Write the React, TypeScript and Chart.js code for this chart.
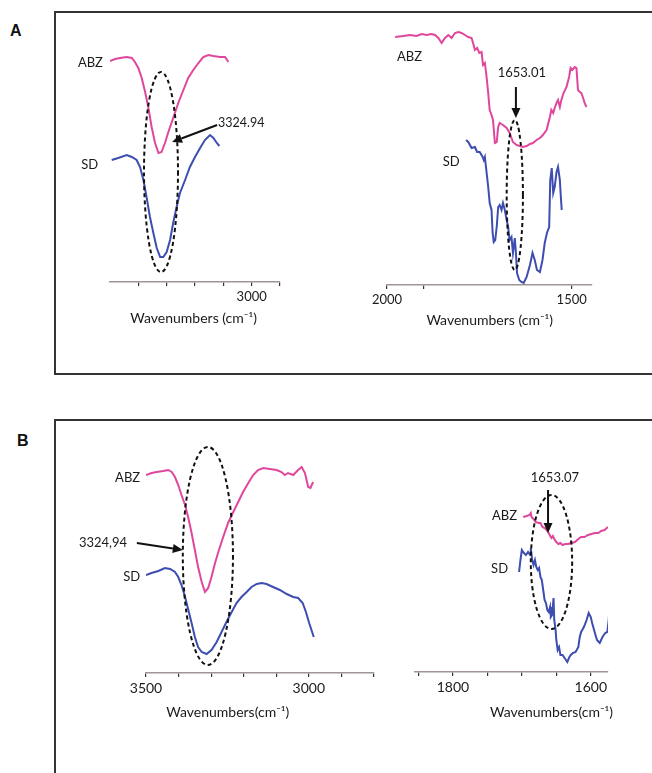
import React, { useEffect, useRef } from "react";
import { Chart, registerables } from "chart.js";

Chart.register(...registerables);

const FONT = "Lato, 'Open Sans', sans-serif";
const PINK = "#e0479c";
const BLUE = "#3d4db0";

// ---------- Panel A, left : 3500-2900 cm-1 ----------
const aLeftAbzX = [3500, 3482, 3465, 3441, 3423, 3412, 3400, 3388, 3376, 3365, 3353, 3341, 3329, 3318, 3306, 3294, 3277, 3259, 3241, 3224, 3206, 3188, 3171, 3153, 3135, 3112, 3094, 3082];
const aLeftAbzY = [221, 223, 224, 225, 224, 220, 214, 204, 190, 175, 155, 139, 129, 130, 139, 150, 164, 179, 192, 204, 212, 219, 225, 227, 226, 225, 225, 220];
const aLeftSdX = [3494, 3471, 3441, 3423, 3406, 3394, 3382, 3371, 3359, 3347, 3335, 3323, 3312, 3300, 3288, 3277, 3265, 3253, 3235, 3218, 3200, 3182, 3165, 3147, 3135, 3123, 3114];
const aLeftSdY = [122, 124, 127, 125, 122, 115, 102, 85, 65, 49, 34, 25, 25, 30, 42, 59, 75, 89, 102, 115, 125, 134, 142, 147, 144, 139, 136];
const aLeftTicks = [3400, 3300, 3200, 3100, 3000, 2900];
const aLeftTickLabels = [3000];

// ---------- Panel A, right : 2000-1450 cm-1 ----------
const aRightAbzX = [1978, 1956, 1938, 1920, 1906, 1893, 1879, 1870, 1861, 1852, 1843, 1834, 1825, 1816, 1807, 1798, 1789, 1780, 1771, 1767, 1762, 1756, 1750, 1744, 1740, 1735, 1731, 1726, 1722, 1717, 1713, 1708, 1703, 1699, 1695, 1686, 1676, 1668, 1659, 1649, 1640, 1632, 1622, 1613, 1605, 1595, 1586, 1578, 1568, 1559, 1555, 1550, 1546, 1541, 1537, 1532, 1528, 1522, 1514, 1507, 1503, 1498, 1492, 1487, 1483, 1478, 1474, 1469, 1465, 1460];
const aRightAbzY = [248, 249, 250, 249, 251, 250, 251, 250, 247, 242, 247, 250, 247, 252, 253, 252, 250, 248, 247, 242, 235, 237, 232, 233, 220, 222, 210, 192, 175, 170, 165, 142, 143, 158, 162, 160, 157, 152, 143, 140, 139, 138, 139, 141, 142, 145, 147, 150, 155, 168, 175, 172, 177, 182, 185, 178, 185, 192, 198, 208, 217, 215, 218, 217, 195, 193, 192, 187, 182, 178];
const aRightSdX = [1786, 1780, 1771, 1762, 1756, 1749, 1741, 1738, 1735, 1732, 1729, 1726, 1722, 1717, 1714, 1711, 1707, 1703, 1699, 1695, 1690, 1686, 1681, 1676, 1672, 1668, 1663, 1659, 1654, 1651, 1648, 1642, 1636, 1630, 1622, 1613, 1606, 1600, 1594, 1586, 1579, 1573, 1567, 1561, 1558, 1554, 1550, 1546, 1541, 1537, 1532, 1530, 1527];
const aRightSdY = [145, 143, 137, 138, 133, 133, 128, 125, 128, 118, 108, 98, 82, 75, 52, 43, 45, 58, 78, 80, 75, 82, 75, 65, 58, 45, 48, 32, 47, 32, 12, 5, 3, 2, 8, 20, 32, 25, 15, 13, 25, 42, 52, 58, 105, 117, 92, 98, 113, 118, 105, 92, 75];
const aRightTicks = [2000, 1900, 1500];
const aRightTickLabels = [2000, 1500];

// ---------- Panel B, left : 3500-2800 cm-1 ----------
const bLeftAbzX = [3500, 3483, 3467, 3447, 3432, 3421, 3411, 3401, 3391, 3380, 3370, 3360, 3350, 3340, 3329, 3319, 3309, 3299, 3288, 3278, 3263, 3248, 3232, 3217, 3202, 3186, 3171, 3156, 3140, 3120, 3099, 3084, 3074, 3064, 3048, 3033, 3022, 3012, 3002, 2995, 2987];
const bLeftAbzY = [198, 200, 201, 202, 203, 201, 196, 188, 178, 168, 155, 140, 123, 106, 91, 81, 85, 96, 110, 121, 136, 150, 161, 171, 181, 190, 198, 203, 205, 204, 203, 201, 198, 200, 198, 203, 206, 200, 186, 185, 191];
const bLeftSdX = [3500, 3483, 3462, 3442, 3426, 3411, 3401, 3391, 3380, 3370, 3360, 3350, 3340, 3329, 3314, 3299, 3283, 3268, 3253, 3237, 3222, 3207, 3191, 3176, 3160, 3145, 3130, 3110, 3089, 3068, 3048, 3033, 3019, 3009, 2999, 2990, 2985];
const bLeftSdY = [98, 100, 102, 105, 104, 101, 96, 88, 76, 63, 50, 36, 26, 21, 19, 23, 31, 41, 51, 61, 70, 76, 81, 86, 89, 90, 89, 86, 83, 79, 76, 75, 70, 61, 50, 41, 36];
const bLeftTicks = [3500, 3400, 3300, 3200, 3100, 3000, 2900, 2800];
const bLeftTickLabels = [3500, 3000];

// ---------- Panel B, right : 1850-1575 cm-1 ----------
const bRightAbzX = [1698, 1693, 1689, 1687, 1686, 1683, 1680, 1676, 1673, 1670, 1667, 1664, 1661, 1658, 1657, 1655, 1653, 1650, 1647, 1644, 1641, 1637, 1633, 1628, 1623, 1618, 1614, 1609, 1604, 1599, 1594, 1589, 1585, 1580, 1575];
const bRightAbzY = [155, 156, 157, 159, 155, 153, 150, 149, 149, 145, 144, 142, 139, 135, 134, 136, 133, 130, 128, 129, 127, 128, 128, 129, 130, 133, 135, 135, 137, 138, 139, 139, 141, 142, 145];
const bRightSdX = [1704, 1702, 1700, 1697, 1694, 1691, 1688, 1687, 1685, 1683, 1681, 1679, 1677, 1675, 1673, 1671, 1669, 1667, 1665, 1663, 1661, 1659, 1658, 1656, 1654, 1653, 1651, 1650, 1648, 1646, 1644, 1641, 1638, 1634, 1631, 1629, 1626, 1622, 1618, 1616, 1614, 1610, 1606, 1603, 1600, 1598, 1594, 1591, 1587, 1583, 1579, 1576, 1574, 1573];
const bRightSdY = [100, 112, 122, 119, 117, 120, 117, 124, 112, 107, 112, 105, 102, 104, 95, 92, 82, 72, 69, 62, 60, 65, 55, 57, 74, 52, 42, 32, 22, 25, 17, 17, 14, 10, 15, 17, 19, 20, 25, 35, 40, 45, 52, 59, 55, 49, 39, 32, 29, 35, 39, 40, 52, 64];
const bRightTicks = [1850, 1800, 1750, 1700, 1650, 1600];
const bRightTickLabels = [1800, 1600];

type Txt = { text: string; x: number; y: number; align: CanvasTextAlign; size: number };
type PanelCfg = {
  xMin: number;
  xMax: number;
  yMax: number;
  ticks: number[];
  labeled: number[];
  tickSize: number;
  series: { x: number[]; y: number[]; color: string }[];
  texts: Txt[];
  ellipse: { cx: number; cy: number; rx: number; ry: number };
  arrow: { x1: number; y1: number; x2: number; y2: number };
  title: { text: string; x: number; dy: number; size: number };
  canvas: { left: number; top: number; width: number; height: number };
  area: { left: number; right: number; top: number; bottom: number };
};

const panels: PanelCfg[] = [
  {
    xMin: 2900, xMax: 3500, yMax: 262,
    ticks: aLeftTicks, labeled: aLeftTickLabels, tickSize: 13,
    series: [
      { x: aLeftAbzX, y: aLeftAbzY, color: PINK },
      { x: aLeftSdX, y: aLeftSdY, color: BLUE },
    ],
    texts: [
      { text: "ABZ", x: 3525, y: 219, align: "right", size: 13 },
      { text: "SD", x: 3542, y: 117, align: "right", size: 13 },
      { text: "3324.94", x: 3119, y: 159, align: "left", size: 12.5 },
    ],
    ellipse: { cx: 3320, cy: 110, rx: 60, ry: 100 },
    arrow: { x1: 3122, y1: 157, x2: 3281, y2: 140 },
    title: { text: "Wavenumbers (cm\u207B\u00B9)", x: 3205, dy: 36, size: 14 },
    canvas: { left: 60, top: 15, width: 270, height: 320 },
    area: { left: 110, right: 280, top: 20, bottom: 282 },
  },
  {
    xMin: 1445, xMax: 2000, yMax: 265,
    ticks: aRightTicks, labeled: aRightTickLabels, tickSize: 13,
    series: [
      { x: aRightAbzX, y: aRightAbzY, color: PINK },
      { x: aRightSdX, y: aRightSdY, color: BLUE },
    ],
    texts: [
      { text: "ABZ", x: 1973, y: 228, align: "left", size: 13 },
      { text: "SD", x: 1849, y: 123, align: "left", size: 13 },
      { text: "1653.01", x: 1635, y: 212, align: "center", size: 13 },
    ],
    ellipse: { cx: 1654, cy: 90, rx: 22, ry: 75 },
    arrow: { x1: 1651, y1: 198, x2: 1651, y2: 167 },
    title: { text: "Wavenumbers (cm\u207B\u00B9)", x: 1722, dy: 35, size: 14 },
    canvas: { left: 340, top: 15, width: 300, height: 320 },
    area: { left: 387, right: 592, top: 20, bottom: 285 },
  },
  {
    xMin: 2800, xMax: 3500, yMax: 243,
    ticks: bLeftTicks, labeled: bLeftTickLabels, tickSize: 14,
    series: [
      { x: bLeftAbzX, y: bLeftAbzY, color: PINK },
      { x: bLeftSdX, y: bLeftSdY, color: BLUE },
    ],
    texts: [
      { text: "ABZ", x: 3518, y: 195, align: "right", size: 13 },
      { text: "SD", x: 3518, y: 96, align: "right", size: 13 },
      { text: "3324,94", x: 3558, y: 130, align: "right", size: 13 },
    ],
    ellipse: { cx: 3310, cy: 117, rx: 77, ry: 109 },
    arrow: { x1: 3528, y1: 130, x2: 3387, y2: 123 },
    title: { text: "Wavenumbers(cm\u207B\u00B9)", x: 3249, dy: 39, size: 14 },
    canvas: { left: 60, top: 425, width: 330, height: 300 },
    area: { left: 146, right: 374, top: 430, bottom: 673 },
  },
  {
    xMin: 1575, xMax: 1855, yMax: 242,
    ticks: bRightTicks, labeled: bRightTickLabels, tickSize: 14,
    series: [
      { x: bRightAbzX, y: bRightAbzY, color: PINK },
      { x: bRightSdX, y: bRightSdY, color: BLUE },
    ],
    texts: [
      { text: "ABZ", x: 1707, y: 156, align: "right", size: 13 },
      { text: "SD", x: 1720, y: 103, align: "right", size: 13 },
      { text: "1653.07", x: 1652, y: 194, align: "center", size: 13 },
    ],
    ellipse: { cx: 1657, cy: 110, rx: 30, ry: 67 },
    arrow: { x1: 1662, y1: 182, x2: 1662, y2: 139 },
    title: { text: "Wavenumbers(cm\u207B\u00B9)", x: 1657, dy: 40, size: 14 },
    canvas: { left: 395, top: 425, width: 250, height: 300 },
    area: { left: 415, right: 608, top: 430, bottom: 672 },
  },
];

function makeAnnotPlugin(p: PanelCfg) {
  return {
    id: "annot",
    afterDatasetsDraw(chart: any) {
      const ctx: CanvasRenderingContext2D = chart.ctx;
      const xs = chart.scales.x;
      const ys = chart.scales.y;
      const X = (v: number) => xs.getPixelForValue(v);
      const Y = (v: number) => ys.getPixelForValue(v);
      ctx.save();
      // ellipse
      const e = p.ellipse;
      const cx = X(e.cx);
      const cy = Y(e.cy);
      const rx = Math.abs(X(e.cx + e.rx) - cx);
      const ry = Math.abs(Y(e.cy + e.ry) - cy);
      ctx.beginPath();
      ctx.setLineDash([4, 3]);
      ctx.lineWidth = 2;
      ctx.strokeStyle = "#111";
      ctx.ellipse(cx, cy, rx, ry, 0, 0, Math.PI * 2);
      ctx.stroke();
      ctx.setLineDash([]);
      // arrow
      const a = p.arrow;
      const x1 = X(a.x1), y1 = Y(a.y1), x2 = X(a.x2), y2 = Y(a.y2);
      const ang = Math.atan2(y2 - y1, x2 - x1);
      const hl = 10, hw = 4.5;
      const bx = x2 - hl * Math.cos(ang);
      const by = y2 - hl * Math.sin(ang);
      ctx.beginPath();
      ctx.lineWidth = 2;
      ctx.moveTo(x1, y1);
      ctx.lineTo(bx, by);
      ctx.stroke();
      ctx.beginPath();
      ctx.fillStyle = "#111";
      ctx.moveTo(x2, y2);
      ctx.lineTo(bx + hw * Math.sin(ang), by - hw * Math.cos(ang));
      ctx.lineTo(bx - hw * Math.sin(ang), by + hw * Math.cos(ang));
      ctx.closePath();
      ctx.fill();
      // texts
      ctx.fillStyle = "#1a1a1a";
      ctx.textBaseline = "middle";
      for (const t of p.texts) {
        ctx.font = `${t.size}px ${FONT}`;
        ctx.textAlign = t.align;
        ctx.fillText(t.text, X(t.x), Y(t.y));
      }
      // axis title
      ctx.font = `${p.title.size}px ${FONT}`;
      ctx.textAlign = "center";
      ctx.fillText(p.title.text, X(p.title.x), Y(0) + p.title.dy);
      ctx.restore();
    },
  };
}

function Panel({ p }: { p: PanelCfg }) {
  const ref = useRef<HTMLCanvasElement>(null);
  useEffect(() => {
    if (!ref.current) return;
    const c = p.canvas;
    const ar = p.area;
    const chart = new Chart(ref.current, {
      type: "line",
      data: {
        datasets: p.series.map((s) => ({
          data: s.x.map((x, i) => ({ x, y: s.y[i] })),
          borderColor: s.color,
          borderWidth: 2,
          pointRadius: 0,
          tension: 0,
          fill: false,
        })),
      },
      options: {
        animation: false,
        responsive: false,
        maintainAspectRatio: false,
        events: [],
        layout: {
          padding: {
            left: ar.left - c.left,
            right: c.left + c.width - ar.right,
            top: ar.top - c.top,
            bottom: 0,
          },
        },
        plugins: { legend: { display: false }, tooltip: { enabled: false } },
        scales: {
          x: {
            type: "linear",
            reverse: true,
            min: p.xMin,
            max: p.xMax,
            afterBuildTicks: (s: any) => {
              s.ticks = p.ticks.map((v) => ({ value: v }));
            },
            afterFit: (s: any) => {
              s.height = c.top + c.height - ar.bottom;
            },
            ticks: {
              autoSkip: false,
              maxRotation: 0,
              padding: 3,
              color: "#1a1a1a",
              font: { family: FONT, size: p.tickSize },
              callback: (v: any) => (p.labeled.includes(Number(v)) ? String(v) : ""),
            },
            grid: {
              display: true,
              drawOnChartArea: false,
              drawTicks: true,
              tickLength: 4,
              color: "#333",
              lineWidth: 1.2,
            },
            border: { display: true, color: "#a09494", width: 1.5 },
          },
          y: { display: false, min: 0, max: p.yMax },
        },
      },
      plugins: [makeAnnotPlugin(p)],
    } as any);
    return () => chart.destroy();
  }, [p]);
  const c = p.canvas;
  return (
    <canvas
      ref={ref}
      width={c.width}
      height={c.height}
      style={{ position: "absolute", left: c.left, top: c.top, width: c.width, height: c.height }}
    />
  );
}

export default function App() {
  return (
    <div
      style={{
        position: "absolute",
        left: 0,
        top: 0,
        width: 652,
        height: 773,
        overflow: "hidden",
        background: "#fff",
        fontFamily: FONT,
      }}
    >
      <div style={{ position: "absolute", left: 10, top: 22, fontFamily: "'Liberation Sans', Arial, sans-serif", fontWeight: 700, fontSize: 16, color: "#111" }}>A</div>
      <div style={{ position: "absolute", left: 17, top: 432, fontFamily: "'Liberation Sans', Arial, sans-serif", fontWeight: 700, fontSize: 16, color: "#111" }}>B</div>
      <div style={{ position: "absolute", left: 54, top: 11, width: 700, height: 364, border: "2px solid #333", boxSizing: "border-box" }} />
      <div style={{ position: "absolute", left: 54, top: 419, width: 700, height: 420, border: "2px solid #333", boxSizing: "border-box" }} />
      {panels.map((p, i) => (
        <Panel key={i} p={p} />
      ))}
    </div>
  );
}
